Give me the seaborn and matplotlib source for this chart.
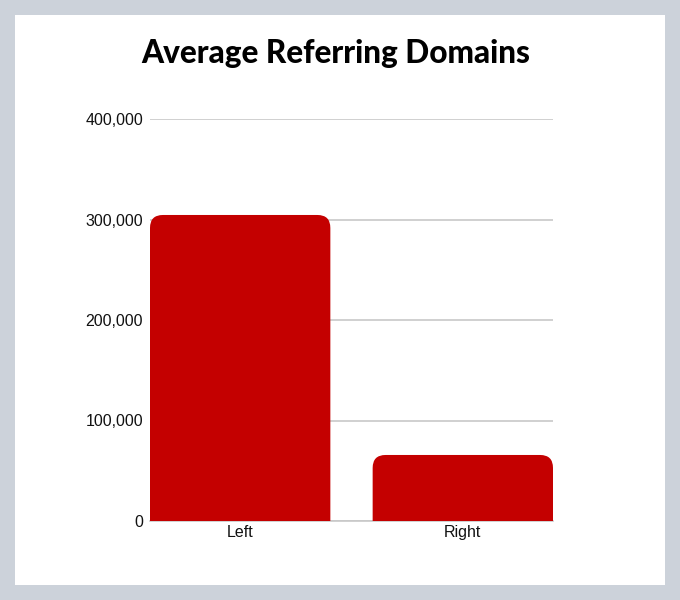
import pandas as pd
import seaborn as sns
import matplotlib.pyplot as plt
from matplotlib.patches import FancyBboxPatch, Rectangle
from matplotlib.ticker import FuncFormatter

# data
categories = ["Left", "Right"]
avg_domains = [304500, 65700]
y_ticks = [0, 100000, 200000, 300000, 400000]

bar_color = "#c40000"
bg_color = "#ccd2da"

df = pd.DataFrame({"side": categories, "domains": avg_domains})

sns.set_style("white")
plt.rcParams["font.family"] = ["Liberation Sans", "DejaVu Sans"]

fig = plt.figure(figsize=(6.8, 6.0), dpi=100)
fig.patch.set_facecolor(bg_color)
# white card in the middle
fig.patches.append(Rectangle((15 / 680, 15 / 600), 650 / 680, 570 / 600,
                             transform=fig.transFigure, facecolor="white",
                             edgecolor="none", zorder=-5))

ax = fig.add_axes([150 / 680, 1 - 521 / 600, 403 / 680, 402 / 600])
ax.set_zorder(2)
ax.set_facecolor("none")
sns.barplot(data=df, x="side", y="domains", color=bar_color, width=0.81,
            saturation=1, ax=ax, zorder=3)

# swap the plain bars for ones with rounded top corners
rx = 0.058
ry = rx * (400000 / 402) / (1.81 / 403)
for bar in list(ax.patches):
    x0, w, h = bar.get_x(), bar.get_width(), bar.get_height()
    bar.remove()
    ax.add_patch(FancyBboxPatch((x0, -ry * 2), w, h + ry * 2,
                                boxstyle=f"round,pad=0,rounding_size={rx}",
                                mutation_aspect=ry / rx,
                                facecolor=bar_color, edgecolor="none", zorder=3))

ax.set_xlim(-0.405, 1.405)
ax.set_ylim(0, 400000)
ax.set_yticks(y_ticks)
ax.yaxis.set_major_formatter(FuncFormatter(lambda v, p: f"{int(v):,}"))
ax.grid(axis="y", color="#c8c8c8", linewidth=1.2, zorder=1)
ax.set_axisbelow(True)
for s in ["left", "right", "top"]:
    ax.spines[s].set_visible(False)
ax.spines["bottom"].set_color("#c8c8c8")
ax.spines["bottom"].set_linewidth(1.2)
ax.tick_params(axis="both", length=0, labelsize=11.5, colors="#111111")
ax.tick_params(axis="y", pad=5)
ax.tick_params(axis="x", pad=3)
ax.set_xlabel("")
ax.set_ylabel("")

fig.text(0.494, 1 - 53 / 600, "Average Referring Domains", ha="center", va="center",
         fontsize=22.7, fontweight="black", family=["Lato", "DejaVu Sans"],
         color="black")

fig.savefig("out.png", dpi=100, facecolor=bg_color)
